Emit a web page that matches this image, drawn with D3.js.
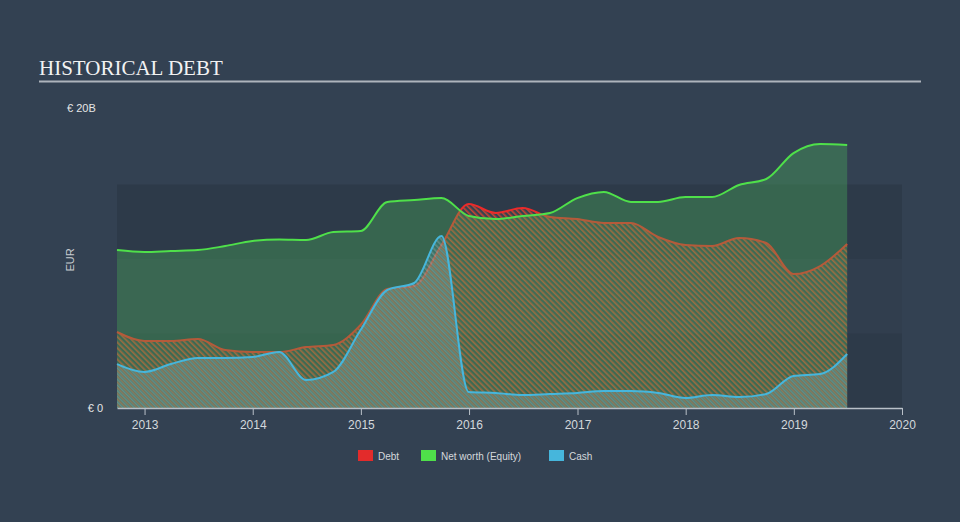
<!DOCTYPE html>
<html>
<head>
<meta charset="utf-8">
<script src="https://cdn.jsdelivr.net/npm/d3@7"></script>
<style>
  html, body { margin: 0; padding: 0; background: #334152; }
  svg { display: block; }
</style>
</head>
<body>
<div id="chart"></div>
<script>
// quarterly balance sheet points, EUR billions
const dates = [
  "2012-09-30", "2012-12-31", "2013-03-31", "2013-06-30", "2013-09-30", "2013-12-31",
  "2014-03-31", "2014-06-30", "2014-09-30", "2014-12-31", "2015-03-31", "2015-06-30",
  "2015-09-30", "2015-12-31", "2016-03-31", "2016-06-30", "2016-09-30", "2016-12-31",
  "2017-03-31", "2017-06-30", "2017-09-30", "2017-12-31", "2018-03-31", "2018-06-30",
  "2018-09-30", "2018-12-31", "2019-03-31", "2019-06-30"
];
const debt = [
  5.10, 4.50, 4.50, 4.63, 3.89, 3.76, 3.76, 4.09, 4.23, 5.57, 7.99, 8.19,
  10.94, 13.69, 13.09, 13.42, 12.82, 12.68, 12.42, 12.42, 11.48, 10.94, 10.87, 11.41,
  11.07, 8.99, 9.53, 11.01
];
const equity = [
  10.60, 10.47, 10.54, 10.60, 10.87, 11.21, 11.31, 11.28, 11.81, 11.88, 13.83, 13.96,
  14.09, 12.89, 12.68, 12.89, 13.09, 14.09, 14.50, 13.83, 13.83, 14.16, 14.16, 14.97,
  15.37, 17.11, 17.72, 17.65
];
const cash = [
  2.95, 2.42, 2.95, 3.36, 3.36, 3.42, 3.76, 1.88, 2.42, 5.23, 7.92, 8.39,
  11.54, 1.07, 1.01, 0.87, 0.94, 1.01, 1.14, 1.14, 1.01, 0.67, 0.87, 0.74,
  0.94, 2.15, 2.28, 3.62
];
const xTicks = [2013, 2014, 2015, 2016, 2017, 2018, 2019, 2020];
const bands = [[0, 5], [5, 10], [10, 15]];
const legendItems = [
  {name: "Debt", color: "#e32b2b"},
  {name: "Net worth (Equity)", color: "#4fe04a"},
  {name: "Cash", color: "#46b6dc"}
];

const W = 960, H = 522;
const parse = d3.timeParse("%Y-%m-%d");
const data = dates.map((d, i) => ({
  date: parse(d), debt: debt[i], equity: equity[i], cash: cash[i]
}));

const svg = d3.select("#chart").append("svg")
  .attr("width", W)
  .attr("height", H)
  .style("font-family", "Arial, 'Liberation Sans', sans-serif");

svg.append("rect").attr("width", W).attr("height", H).attr("fill", "#334152");

// title
svg.append("text")
  .attr("x", 39).attr("y", 75)
  .attr("fill", "#f2f2f2")
  .style("font-family", "'Liberation Serif', 'Times New Roman', serif")
  .style("font-size", "21px")
  .text("HISTORICAL DEBT");
svg.append("line")
  .attr("x1", 39).attr("x2", 921).attr("y1", 81.5).attr("y2", 81.5)
  .attr("stroke", "#aeb4bc").attr("stroke-width", 2);

// scales
const x = d3.scaleTime()
  .domain([parse("2012-09-30"), parse("2020-01-01")])
  .range([117, 902]);
const y = d3.scaleLinear().domain([0, 20]).range([408, 110]);

// hatch patterns
const defs = svg.append("defs");
const debtPat = defs.append("pattern")
  .attr("id", "debtHatch")
  .attr("patternUnits", "userSpaceOnUse")
  .attr("width", 4).attr("height", 4)
  .attr("patternTransform", "rotate(-45)");
debtPat.append("rect").attr("width", 4).attr("height", 4).attr("fill", "rgba(150,160,165,0.08)");
debtPat.append("rect").attr("width", 1.6).attr("height", 4).attr("fill", "#e0452e").attr("opacity", 0.85);

const cashPat = defs.append("pattern")
  .attr("id", "cashHatch")
  .attr("patternUnits", "userSpaceOnUse")
  .attr("width", 4).attr("height", 4)
  .attr("patternTransform", "rotate(-45)");
cashPat.append("rect").attr("width", 4).attr("height", 4).attr("fill", "rgba(80,175,205,0.18)");
cashPat.append("rect").attr("x", 2).attr("width", 1.6).attr("height", 4).attr("fill", "rgba(160,180,185,0.38)");

// background bands
svg.append("g").selectAll("rect")
  .data(bands)
  .join("rect")
  .attr("x", 117)
  .attr("width", 785)
  .attr("y", d => y(d[1]))
  .attr("height", d => y(d[0]) - y(d[1]))
  .attr("fill", (d, i) => i === 1 ? "rgba(0,0,0,0.04)" : "rgba(0,0,0,0.1)");

const curve = d3.curveMonotoneX;
const area = key => d3.area().curve(curve).x(d => x(d.date)).y0(y(0)).y1(d => y(d[key]));
const line = key => d3.line().curve(curve).x(d => x(d.date)).y(d => y(d[key]));

// debt
svg.append("path").datum(data)
  .attr("d", area("debt"))
  .attr("fill", "url(#debtHatch)");
svg.append("path").datum(data)
  .attr("d", line("debt"))
  .attr("fill", "none").attr("stroke", "#ec2a2a").attr("stroke-width", 2);

// net worth
svg.append("path").datum(data)
  .attr("d", area("equity"))
  .attr("fill", "rgba(75,185,90,0.34)");
svg.append("path").datum(data)
  .attr("d", line("equity"))
  .attr("fill", "none").attr("stroke", "#4fe04a").attr("stroke-width", 2);

// cash
svg.append("path").datum(data)
  .attr("d", area("cash"))
  .attr("fill", "url(#cashHatch)");
svg.append("path").datum(data)
  .attr("d", line("cash"))
  .attr("fill", "none").attr("stroke", "#46b6dc").attr("stroke-width", 2);

// x axis
const xAxis = svg.append("g")
  .attr("transform", "translate(0,408)")
  .call(d3.axisBottom(x)
    .tickValues(xTicks.map(t => new Date(t, 0, 1)))
    .tickFormat(d3.timeFormat("%Y"))
    .tickSize(7)
    .tickSizeOuter(0));
xAxis.select(".domain").attr("stroke", "#b9c0c8").attr("stroke-width", 1.5);
xAxis.selectAll(".tick line").attr("stroke", "#b9c0c8");
xAxis.selectAll(".tick text")
  .attr("fill", "#d4d8dc")
  .attr("dy", "0.95em")
  .style("font-size", "12px");

// y labels
svg.append("text")
  .attr("x", 67).attr("y", 112)
  .attr("fill", "#e6e6e6")
  .style("font-size", "11px")
  .text("€ 20B");
svg.append("text")
  .attr("x", 103).attr("y", 412)
  .attr("text-anchor", "end")
  .attr("fill", "#e6e6e6")
  .style("font-size", "11px")
  .text("€ 0");
svg.append("text")
  .attr("transform", "translate(74,260) rotate(-90)")
  .attr("text-anchor", "middle")
  .attr("fill", "#c8ccd0")
  .style("font-size", "11px")
  .text("EUR");

// legend
const lx = [358, 421, 549];
const legend = svg.append("g").selectAll("g")
  .data(legendItems)
  .join("g")
  .attr("transform", (d, i) => `translate(${lx[i]},450)`);
legend.append("rect")
  .attr("width", 15).attr("height", 11)
  .attr("fill", d => d.color);
legend.append("text")
  .attr("x", 20).attr("y", 9.5)
  .attr("fill", "#d4d8dc")
  .style("font-size", "10px")
  .text(d => d.name);
</script>
</body>
</html>
